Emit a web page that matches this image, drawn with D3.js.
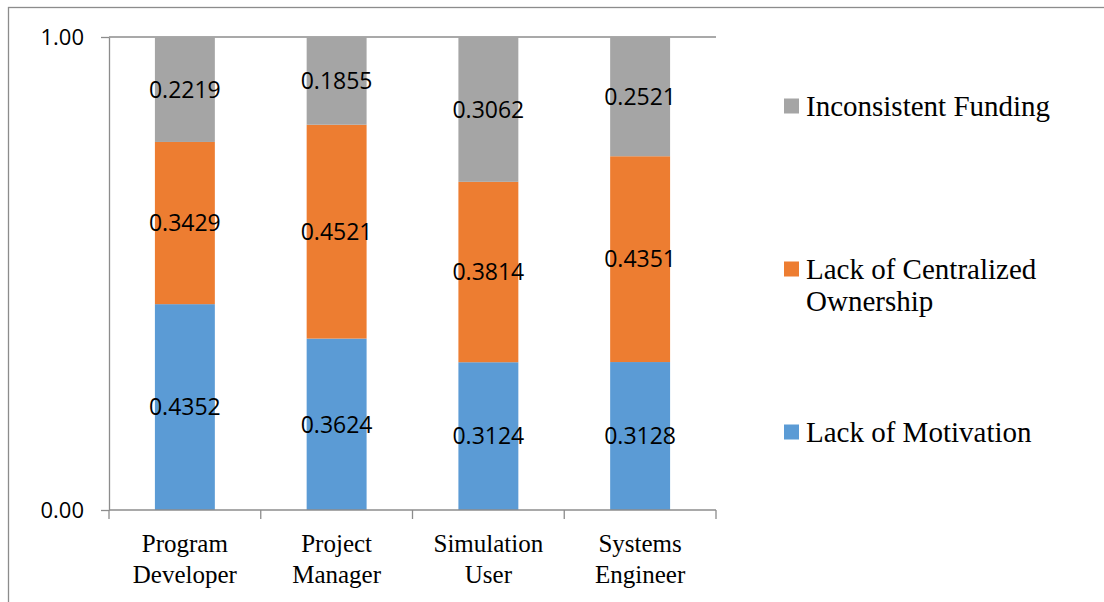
<!DOCTYPE html>
<html>
<head>
<meta charset="utf-8">
<script src="https://cdn.jsdelivr.net/npm/d3@7"></script>
<style>
  body { margin: 0; background: #fff; }
  svg { display: block; }
</style>
</head>
<body>
<div id="chart"></div>
<script>
// data
var categories = [["Program", "Developer"], ["Project", "Manager"], ["Simulation", "User"], ["Systems", "Engineer"]];
var seriesNames = ["Lack of Motivation", "Lack of Centralized Ownership", "Inconsistent Funding"];
var motivation = [0.4352, 0.3624, 0.3124, 0.3128];
var ownership = [0.3429, 0.4521, 0.3814, 0.4351];
var funding = [0.2219, 0.1855, 0.3062, 0.2521];
var yTicks = [0, 1];
var colors = ["#5B9BD5", "#ED7D31", "#A5A5A5"];

// svg params
var svgWidth = 1104, svgHeight = 602;
var plot = { left: 109, right: 716, top: 37, bottom: 510 };

var svg = d3.select("#chart").append("svg")
  .attr("width", svgWidth)
  .attr("height", svgHeight);

// outer frame (cropped at right and bottom)
svg.append("rect")
  .attr("x", 8.5).attr("y", 7.5)
  .attr("width", 1200).attr("height", 700)
  .attr("fill", "none")
  .attr("stroke", "#8c8c8c")
  .attr("stroke-width", 1.3);

// scales
var catKeys = categories.map(d => d.join(" "));
var x = d3.scaleBand()
  .domain(catKeys)
  .range([plot.left, plot.right])
  .paddingInner(0.605)
  .paddingOuter(0.3025);

var y = d3.scaleLinear()
  .domain([0, 1])
  .range([plot.bottom, plot.top]);

// stack the series
var rows = catKeys.map(function(k, i) {
  return { key: k, s0: motivation[i], s1: ownership[i], s2: funding[i] };
});
var stack = d3.stack().keys(["s0", "s1", "s2"]);
var layers = stack(rows);

// gridline at top
svg.append("line")
  .attr("x1", plot.left).attr("x2", plot.right)
  .attr("y1", y(1)).attr("y2", y(1))
  .attr("stroke", "#8c8c8c").attr("stroke-width", 1.3);

// bars
var layerGroups = svg.append("g").selectAll("g")
  .data(layers)
  .enter()
  .append("g")
  .attr("fill", (d, i) => colors[i]);

layerGroups.selectAll("rect")
  .data(d => d)
  .enter()
  .append("rect")
  .attr("x", d => x(d.data.key))
  .attr("y", d => y(d[1]))
  .attr("width", x.bandwidth())
  .attr("height", d => y(d[0]) - y(d[1]));

// data labels
layerGroups.selectAll("text")
  .data(d => d.map(p => ({ p: p, key: d.key })))
  .enter()
  .append("text")
  .attr("x", d => x(d.p.data.key) + x.bandwidth() / 2)
  .attr("y", d => (y(d.p[0]) + y(d.p[1])) / 2)
  .attr("dy", "0.36em")
  .attr("text-anchor", "middle")
  .attr("fill", "#000")
  .style("font-family", "'Open Sans', sans-serif")
  .style("font-size", "23px")
  .text(d => d3.format(".4f")(d.p.data[d.key]));

// y axis
var yAxis = d3.axisLeft(y)
  .tickValues(yTicks)
  .tickFormat(d3.format(".2f"))
  .tickSize(8)
  .tickSizeOuter(0)
  .tickPadding(17);

var yAxisGroup = svg.append("g")
  .attr("transform", `translate(${plot.left}, 0)`)
  .call(yAxis);
yAxisGroup.select(".domain").attr("stroke", "#8c8c8c").attr("stroke-width", 1.3);
yAxisGroup.selectAll(".tick line").attr("stroke", "#8c8c8c").attr("stroke-width", 1.3);
yAxisGroup.selectAll(".tick text")
  .attr("fill", "#000")
  .style("font-family", "'Open Sans', sans-serif")
  .style("font-size", "22px");

// x axis line and boundary ticks
svg.append("line")
  .attr("x1", plot.left).attr("x2", plot.right)
  .attr("y1", plot.bottom).attr("y2", plot.bottom)
  .attr("stroke", "#8c8c8c").attr("stroke-width", 1.3);

var bounds = d3.range(catKeys.length + 1).map(i => plot.left + i * x.step());
svg.append("g").selectAll("line")
  .data(bounds)
  .enter()
  .append("line")
  .attr("x1", d => d).attr("x2", d => d)
  .attr("y1", plot.bottom).attr("y2", plot.bottom + 9)
  .attr("stroke", "#8c8c8c").attr("stroke-width", 1.3);

// category labels
var catLabels = svg.append("g").selectAll("text")
  .data(categories)
  .enter()
  .append("text")
  .attr("text-anchor", "middle")
  .attr("fill", "#000")
  .style("font-family", "'Liberation Serif', 'Times New Roman', serif")
  .style("font-size", "25px");

catLabels.each(function(d, i) {
  var t = d3.select(this);
  d.forEach(function(line, j) {
    t.append("tspan")
      .attr("x", x(catKeys[i]) + x.bandwidth() / 2)
      .attr("y", 552 + j * 31)
      .text(line);
  });
});

// legend
var legendItems = [
  { name: ["Inconsistent Funding"], color: colors[2], y: 106 },
  { name: ["Lack of Centralized", "Ownership"], color: colors[1], y: 269 },
  { name: ["Lack of Motivation"], color: colors[0], y: 432 }
];

var legend = svg.append("g").selectAll("g")
  .data(legendItems)
  .enter()
  .append("g");

legend.append("rect")
  .attr("x", 784)
  .attr("y", d => d.y - 7.5)
  .attr("width", 15)
  .attr("height", 15)
  .attr("fill", d => d.color);

legend.append("text")
  .attr("fill", "#000")
  .style("font-family", "'Liberation Serif', 'Times New Roman', serif")
  .style("font-size", "29px")
  .each(function(d) {
    var t = d3.select(this);
    d.name.forEach(function(line, j) {
      t.append("tspan")
        .attr("x", 806)
        .attr("y", d.y + 10 + j * 32)
        .text(line);
    });
  });
</script>
</body>
</html>
